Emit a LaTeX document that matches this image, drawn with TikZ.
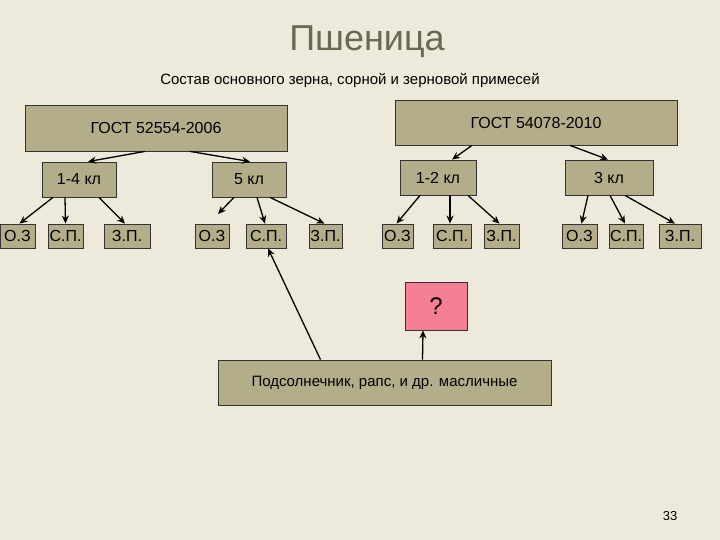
\documentclass[tikz,border=0pt]{standalone}
\usepackage{fontspec}
\setmainfont{Liberation Sans}
\usetikzlibrary{arrows.meta}
\definecolor{bg}{HTML}{EDEADB}
\definecolor{boxc}{HTML}{B3AD89}
\definecolor{titc}{HTML}{6B6751}
\definecolor{pinkc}{HTML}{F77F93}
\begin{document}
\begin{tikzpicture}[x=1pt,y=-1pt,
  box/.style={draw=black!80,fill=boxc,line width=0.8pt,inner sep=0pt,font=\fontsize{16}{18}\selectfont},
  sm/.style={box,minimum height=24pt},
  arr/.style={-{Stealth[length=8pt,width=7pt]},line width=1.3pt}]
\fill[bg] (0,0) rectangle (720,540);
\useasboundingbox (0,0) rectangle (720,540);
\node[text=titc,font=\fontsize{36}{40}\selectfont] (title) at (367,42) {Пшеница};
\node[font=\fontsize{15}{18}\selectfont] (sub) at (350,80) {Состав основного зерна, сорной и зерновой примесей};
\node[box,minimum width=262pt,minimum height=46pt] (g1) at (156,128) {ГОСТ 52554-2006};
\node[box,minimum width=282pt,minimum height=45pt] (g2) at (536,122.5) {ГОСТ 54078-2010};
\node[box,minimum width=74pt,minimum height=35pt] (k14) at (79,179.5) {1-4 кл};
\node[box,minimum width=74pt,minimum height=35pt] (k5) at (249,179.5) {5 кл};
\node[box,minimum width=76pt,minimum height=35pt] (k12) at (438,177.5) {1-2 кл};
\node[box,minimum width=88pt,minimum height=35pt] (k3) at (609,177.5) {3 кл};
\node[sm,minimum width=35pt] (a1) at (17.5,236) {О.З};
\node[sm,minimum width=35pt] (a2) at (65.5,236) {С.П.};
\node[sm,minimum width=46pt] (a3) at (127,236) {З.П.};
\node[sm,minimum width=34pt] (b1) at (212,236) {О.З};
\node[sm,minimum width=40pt] (b2) at (266,236) {С.П.};
\node[sm,minimum width=33pt] (b3) at (325.5,236) {З.П.};
\node[sm,minimum width=31pt] (c1) at (397.5,236) {О.З};
\node[sm,minimum width=38pt] (c2) at (452,236) {С.П.};
\node[sm,minimum width=35pt] (c3) at (501.5,236) {З.П.};
\node[sm,minimum width=35pt] (d1) at (579.5,236) {О.З};
\node[sm,minimum width=34pt] (d2) at (626,236) {С.П.};
\node[sm,minimum width=42pt] (d3) at (680,236) {З.П.};
\node[box,fill=pinkc,minimum width=62pt,minimum height=48pt,font=\fontsize{24}{28}\selectfont] (q) at (436,306) {?};
\node[box,minimum width=333pt,minimum height=45pt,font=\fontsize{15}{18}\selectfont] (m) at (384.5,382.5) {Подсолнечник, рапс, и др. масличные};
\node[font=\fontsize{13}{15}\selectfont] (pg) at (670,516) {33};
\draw[arr] ([xshift=-11pt]g1.south) -- ([xshift=9pt]k14.north);
\draw[arr] ([xshift=34pt]g1.south) -- ([xshift=1pt]k5.north);
\draw[arr] ([xshift=-64pt]g2.south) -- ([xshift=14pt]k12.north);
\draw[arr] ([xshift=34pt]g2.south) -- ([xshift=-1pt]k3.north);
\draw[arr] ([xshift=-26pt]k14.south) -- ([xshift=2pt]a1.north);
\draw[arr] ([xshift=-14pt]k14.south) -- (a2.north);
\draw[arr] ([xshift=20pt]k14.south) -- ([xshift=-2pt]a3.north);
\coordinate (b1e) at (218,214);
\draw[arr] ([xshift=-15pt]k5.south) -- (b1e);
\draw[arr] ([xshift=8pt]k5.south) -- ([xshift=-1pt]b2.north);
\draw[arr] ([xshift=21pt]k5.south) -- ([xshift=-1pt]b3.north);
\draw[arr] ([xshift=-18pt]k12.south) -- ([xshift=-1pt]c1.north);
\draw[arr] ([xshift=12pt]k12.south) -- ([xshift=-2pt]c2.north);
\draw[arr] ([xshift=30pt]k12.south) -- ([xshift=-2pt]c3.north);
\draw[arr] ([xshift=-21pt]k3.south) -- ([xshift=2pt]d1.north);
\draw[arr] ([xshift=1pt]k3.south) -- ([xshift=-1pt]d2.north);
\draw[arr] ([xshift=16pt]k3.south) -- ([xshift=-5pt]d3.north);
\draw[arr] ([xshift=-64pt]m.north) -- ([xshift=2pt]b2.south);
\draw[arr] ([xshift=38pt]m.north) -- ([xshift=-13pt]q.south);
\end{tikzpicture}
\end{document}
